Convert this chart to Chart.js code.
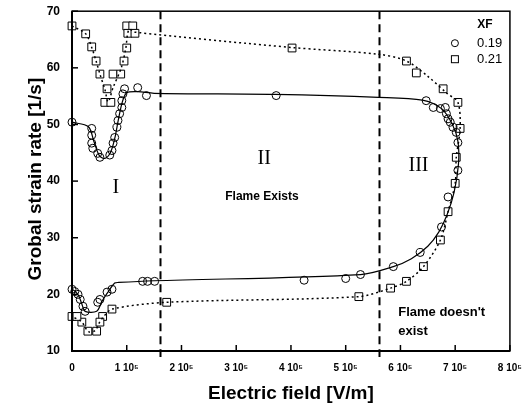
<!DOCTYPE html>
<html>
<head>
<meta charset="utf-8">
<script src="https://cdn.jsdelivr.net/npm/chart.js@4.4.0/dist/chart.umd.min.js"></script>
<style>
  html, body { margin: 0; padding: 0; background: #fff; }
</style>
</head>
<body>
<canvas id="myChart" width="525" height="415"></canvas>
<script>
// x values are in units of 10^5 V/m
const xTickLabels = ['0', '1 10⁵', '2 10⁵', '3 10⁵', '4 10⁵', '5 10⁵', '6 10⁵', '7 10⁵', '8 10⁵'];
const yTickValues = [10, 20, 30, 40, 50, 60, 70];

// XF = 0.19 (circles)
const circleX = [0, 0.36, 0.36, 0.36, 0.38, 0.47, 0.51, 0.69, 0.73, 0.75, 0.78, 0.82, 0.84, 0.87, 0.91, 0.91, 0.93, 0.96, 1.2, 1.36,
  3.73, 6.47, 6.6, 6.73, 6.82, 6.84, 6.87, 6.91, 6.96, 7.02, 7.05, 7.05, 6.87, 6.75, 6.36, 5.87, 5.27, 5.0, 4.24, 1.51,
  1.38, 1.29, 0.73, 0.64, 0.51, 0.47, 0.24, 0.2, 0.15, 0.11, 0.05, 0];
const circleY = [50.4, 49.3, 48.1, 46.7, 45.8, 44.9, 44.2, 44.6, 45.4, 46.7, 47.7, 49.5, 50.7, 51.9, 53.0, 54.2, 55.4, 56.3, 56.5, 55.1,
  55.1, 54.2, 53.0, 52.8, 53.0, 51.9, 51.0, 50.4, 49.5, 48.6, 46.8, 41.9, 37.2, 31.9, 27.4, 24.9, 23.5, 22.8, 22.5, 22.3,
  22.3, 22.3, 20.9, 20.4, 19.1, 18.6, 17.0, 17.9, 19.1, 20.0, 20.5, 20.9];
const circleFitX = [0, 0.3, 0.4, 0.5, 0.6, 0.7, 0.78, 0.85, 0.92, 1.0, 1.2, 1.5, 3.7, 5.6, 6.4, 6.75, 6.95, 7.05, 7.06, 6.98,
  6.85, 6.7, 6.5, 6.2, 5.87, 5.27, 1.5, 0.85, 0.78, 0.65, 0.55, 0.45, 0.24, 0.18, 0.12, 0.05, 0];
const circleFitY = [50.4, 49.6, 47, 44.5, 44, 45, 47.5, 51, 54, 55.6, 55.8, 55.5, 55.3, 54.8, 54.3, 52.8, 50, 47, 43, 38,
  34, 31, 28.5, 26.3, 24.9, 23.5, 22.4, 22.1, 22.0, 20.3, 18.8, 17.0, 17.0, 18.3, 19.8, 20.6, 20.9];

// XF = 0.21 (squares)
const squareX = [0, 0.25, 0.36, 0.44, 0.51, 0.64, 0.6, 0.71, 0.75, 0.89, 0.95, 1.0, 1.0, 1.11, 1.02, 1.15, 4.02, 6.11, 6.29, 6.78,
  7.05, 7.09, 7.02, 7.0, 6.87, 6.73, 6.42, 6.11, 5.82, 5.24, 1.73, 0.73, 0.56, 0.51, 0.45, 0.29, 0.18, 0, 0.09];
const squareY = [67.4, 66.0, 63.7, 61.2, 58.9, 56.3, 53.9, 53.9, 58.9, 58.9, 61.2, 63.5, 67.4, 67.4, 66.1, 66.1, 63.5, 61.2, 59.1, 56.3,
  53.9, 49.3, 44.2, 39.6, 34.6, 29.6, 24.9, 22.3, 21.1, 19.6, 18.6, 17.4, 16.1, 15.1, 13.5, 13.5, 15.1, 16.1, 16.1];
const squareFitX = [0, 0.25, 0.36, 0.44, 0.51, 0.6, 0.66, 0.75, 0.9, 0.98, 1.04, 1.15, 4.0, 5.6, 6.11, 6.5, 6.85, 7.05, 7.09, 7.02,
  7.0, 6.87, 6.73, 6.42, 6.11, 5.82, 5.24, 1.73, 0.73, 0.58, 0.5, 0.42, 0.3, 0.18, 0];
const squareFitY = [67.4, 66.0, 63.6, 61.2, 58.9, 56.2, 54.0, 56.5, 60.0, 63.3, 66.8, 66.3, 63.6, 62.4, 61.2, 58.5, 55.5, 53.9, 49.3, 44.2,
  39.6, 34.6, 29.6, 24.9, 22.3, 21.1, 19.6, 18.6, 17.4, 16.1, 15.0, 13.6, 13.4, 15.1, 16.1];

// regime boundaries and annotations
const regionBounds = [1.6, 5.6];
const regionLabels = ['I', 'II', 'III'];
const regionLabelX = [0.8, 3.51, 6.33];
const regionLabelY = [38.9, 44.0, 42.7];
const noteTexts = ['Flame Exists', "Flame doesn't", 'exist'];
const noteX = [3.47, 5.96, 5.96];
const noteY = [37.3, 16.9, 13.4];
const legendTitle = 'XF';
const seriesNames = ['0.19', '0.21'];

function toPoints(xs, ys) {
  return xs.map((v, i) => ({ x: v, y: ys[i] }));
}

const overlay = {
  id: 'overlay',
  beforeDatasetsDraw(chart) {
    const { ctx, chartArea: a, scales: { x } } = chart;
    ctx.save();
    ctx.strokeStyle = '#000';
    ctx.lineWidth = 2;
    ctx.setLineDash([8, 5]);
    regionBounds.forEach(v => {
      const px = Math.round(x.getPixelForValue(v)) + 0.5;
      ctx.beginPath();
      ctx.moveTo(px, a.top);
      ctx.lineTo(px, a.bottom + 6);
      ctx.stroke();
    });
    ctx.restore();
  },
  afterDatasetsDraw(chart) {
    const { ctx, chartArea: a, scales: { x, y } } = chart;
    ctx.save();
    ctx.strokeStyle = '#000';
    // frame
    ctx.lineWidth = 1.5;
    ctx.strokeRect(a.left, a.top, a.right - a.left, a.bottom - a.top);
    ctx.lineWidth = 2;
    ctx.beginPath();
    ctx.moveTo(a.left, a.top);
    ctx.lineTo(a.left, a.bottom);
    ctx.lineTo(a.right, a.bottom);
    ctx.stroke();
    // inward ticks
    ctx.lineWidth = 1.5;
    x.ticks.forEach(t => {
      const px = x.getPixelForValue(t.value);
      ctx.beginPath();
      ctx.moveTo(px, a.bottom);
      ctx.lineTo(px, a.bottom - 6);
      ctx.stroke();
    });
    y.ticks.forEach(t => {
      const py = y.getPixelForValue(t.value);
      ctx.beginPath();
      ctx.moveTo(a.left, py);
      ctx.lineTo(a.left + 6, py);
      ctx.stroke();
    });

    // region labels
    ctx.fillStyle = '#000';
    ctx.textAlign = 'center';
    ctx.textBaseline = 'middle';
    ctx.font = '20px "Liberation Serif", serif';
    regionLabels.forEach((s, i) => {
      ctx.fillText(s, x.getPixelForValue(regionLabelX[i]), y.getPixelForValue(regionLabelY[i]));
    });
    ctx.font = 'bold 12px "Liberation Sans", Arial, sans-serif';
    ctx.fillText(noteTexts[0], x.getPixelForValue(noteX[0]), y.getPixelForValue(noteY[0]));
    ctx.textAlign = 'left';
    ctx.font = 'bold 13px "Liberation Sans", Arial, sans-serif';
    ctx.fillText(noteTexts[1], x.getPixelForValue(noteX[1]), y.getPixelForValue(noteY[1]));
    ctx.fillText(noteTexts[2], x.getPixelForValue(noteX[2]), y.getPixelForValue(noteY[2]));

    // legend
    const lx = a.right - 55;
    ctx.font = 'bold 12px "Liberation Sans", Arial, sans-serif';
    ctx.textAlign = 'center';
    ctx.fillText(legendTitle, a.right - 25, a.top + 13);
    ctx.font = '13px "Liberation Sans", Arial, sans-serif';
    ctx.textAlign = 'left';
    ctx.lineWidth = 1;
    ctx.beginPath();
    ctx.arc(lx, a.top + 32, 3.5, 0, Math.PI * 2);
    ctx.stroke();
    ctx.strokeRect(lx - 3.5, a.top + 44.5, 7, 7);
    ctx.fillText(seriesNames[0], lx + 22, a.top + 32);
    ctx.fillText(seriesNames[1], lx + 22, a.top + 48);

    // axis titles
    ctx.font = 'bold 19px "Liberation Sans", Arial, sans-serif';
    ctx.textAlign = 'center';
    ctx.fillText('Electric field [V/m]', (a.left + a.right) / 2, a.bottom + 43);
    ctx.font = 'bold 19px "Liberation Sans", Arial, sans-serif';
    ctx.translate(36, (a.top + a.bottom) / 2 - 2);
    ctx.rotate(-Math.PI / 2);
    ctx.fillText('Grobal strain rate [1/s]', 0, 0);
    ctx.restore();
  }
};

const ctx = document.getElementById('myChart').getContext('2d');
new Chart(ctx, {
  type: 'scatter',
  data: {
    datasets: [
      {
        label: 'fit 0.19',
        data: toPoints(circleFitX, circleFitY),
        showLine: true,
        borderColor: '#000',
        borderWidth: 1.2,
        pointRadius: 0,
        tension: 0.3
      },
      {
        label: 'fit 0.21',
        data: toPoints(squareFitX, squareFitY),
        showLine: true,
        borderColor: '#000',
        borderWidth: 1.5,
        borderDash: [2, 3],
        pointRadius: 0,
        tension: 0.3
      },
      {
        label: seriesNames[0],
        data: toPoints(circleX, circleY),
        pointStyle: 'circle',
        pointRadius: 4,
        backgroundColor: 'rgba(255,255,255,0)',
        borderColor: '#000',
        borderWidth: 1
      },
      {
        label: seriesNames[1],
        data: toPoints(squareX, squareY),
        pointStyle: 'rect',
        pointRadius: 5.5,
        backgroundColor: '#fff',
        borderColor: '#000',
        borderWidth: 1
      }
    ]
  },
  options: {
    responsive: false,
    animation: false,
    clip: false,
    layout: { padding: { top: 10, right: 13, left: 0, bottom: 0 } },
    plugins: {
      legend: { display: false },
      tooltip: { enabled: false }
    },
    scales: {
      x: {
        type: 'linear',
        min: 0,
        max: 8,
        grid: { display: false },
        border: { display: false },
        ticks: {
          stepSize: 1,
          padding: 3,
          color: '#000',
          font: { family: '"Liberation Sans", Arial, sans-serif', size: 10, weight: 'bold' },
          callback: v => xTickLabels[Math.round(v)]
        },
        afterFit: s => { s.height = 64; }
      },
      y: {
        type: 'linear',
        min: yTickValues[0],
        max: yTickValues[yTickValues.length - 1],
        grid: { display: false },
        border: { display: false },
        ticks: {
          stepSize: 10,
          padding: 4,
          color: '#000',
          font: { family: '"Liberation Sans", Arial, sans-serif', size: 12, weight: 'bold' }
        },
        afterFit: s => { s.width = 72; }
      }
    }
  },
  plugins: [overlay]
});
</script>
</body>
</html>
